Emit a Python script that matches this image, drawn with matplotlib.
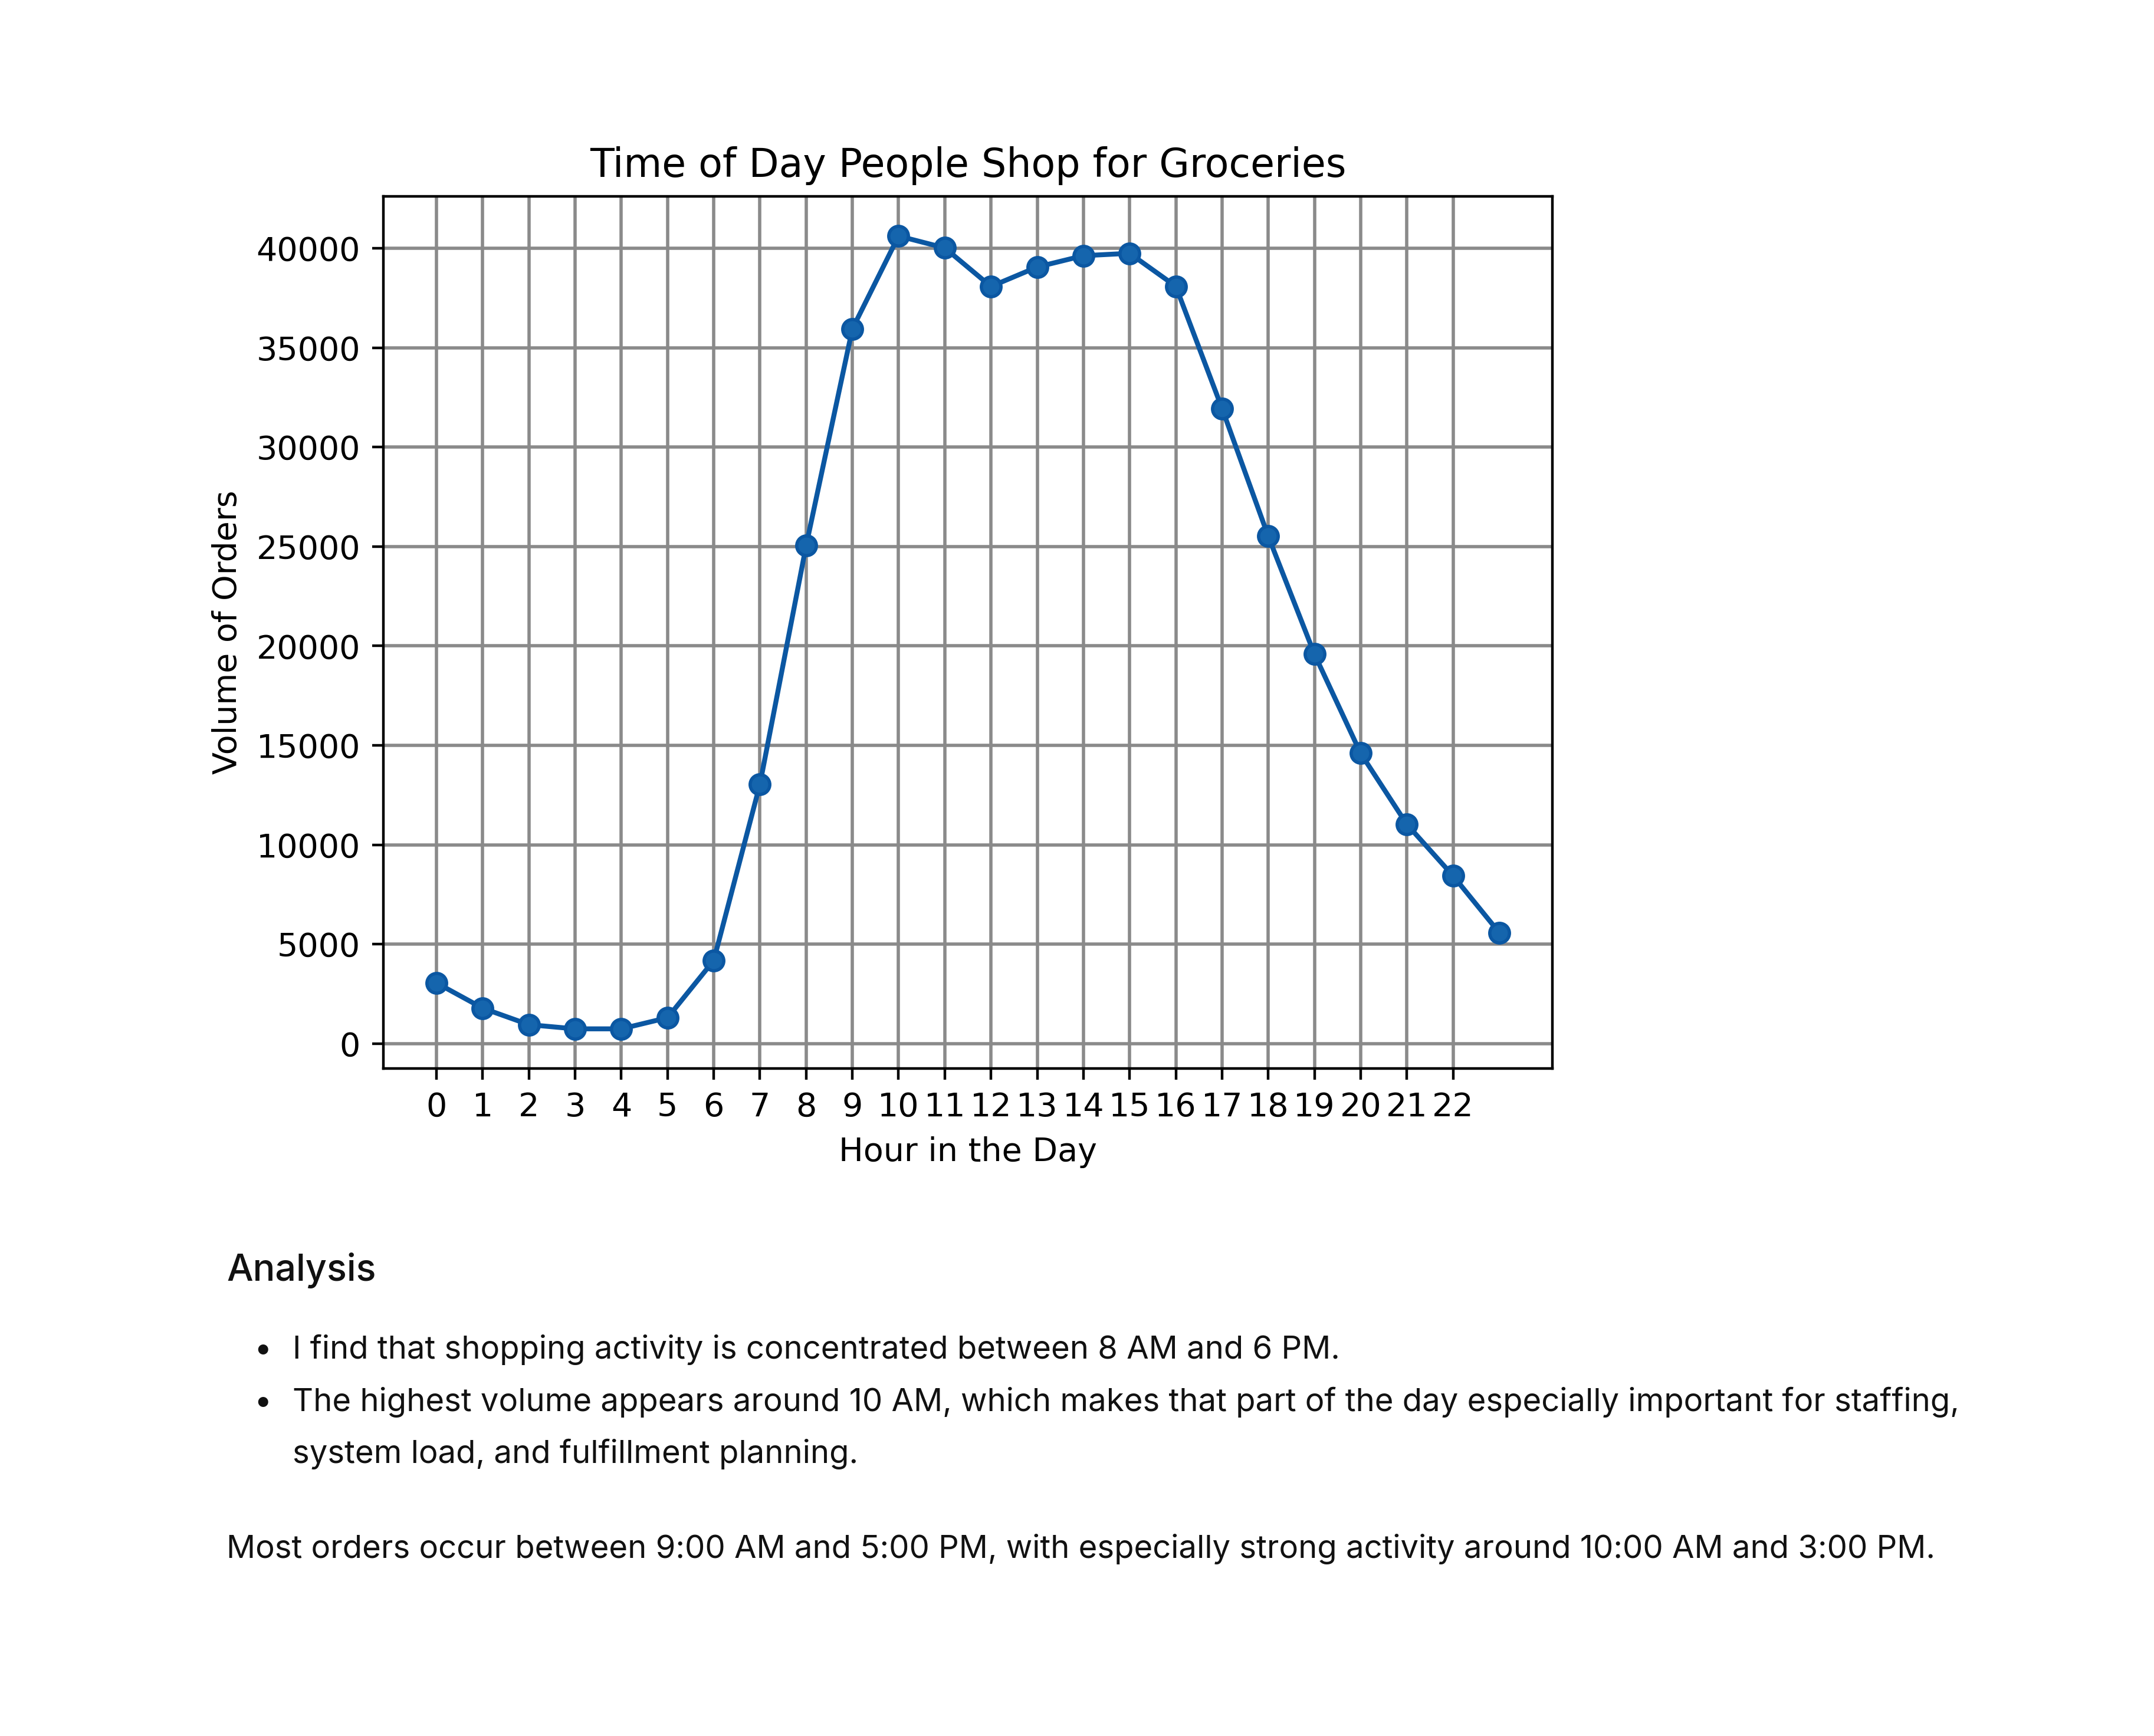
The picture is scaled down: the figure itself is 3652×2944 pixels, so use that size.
import matplotlib
matplotlib.use("Agg")
import matplotlib.pyplot as plt

# ---- data ----
hours = list(range(24))
orders = [3050, 1780, 950, 740, 740, 1300, 4180, 13050, 25050, 35950,
          40620, 40020, 38080, 39060, 39630, 39750, 38090, 31950, 25520,
          19590, 14600, 11030, 8440, 5580]
tick_positions = list(range(23))
tick_labels = [str(h) for h in range(23)]

title = "Time of Day People Shop for Groceries"
xlabel = "Hour in the Day"
ylabel = "Volume of Orders"
heading = "Analysis"
bullets = [
    "I find that shopping activity is concentrated between 8 AM and 6 PM.",
    "The highest volume appears around 10 AM, which makes that part of the day especially important for staffing,",
    "system load, and fulfillment planning.",
]
summary = "Most orders occur between 9:00 AM and 5:00 PM, with especially strong activity around 10:00 AM and 3:00 PM."

W, H = 3652, 2944
DPI = 400
fig = plt.figure(figsize=(W / DPI, H / DPI), dpi=DPI)
fig.patch.set_facecolor("white")

ax = fig.add_axes([650 / W, 1 - 1812 / H, 1982 / W, 1479 / H])
ax.plot(hours, orders, marker="o", color="#0b57a2", markerfacecolor="#1565ad",
        markeredgecolor="#0b57a2", linewidth=1.5, markersize=6, zorder=3)
ax.set_xticks(tick_positions)
ax.set_xticklabels(tick_labels)
ax.grid(True, color="#8a8a8a", linewidth=1.0)
ax.set_axisbelow(True)
ax.set_title(title, fontsize=12)
ax.set_xlabel(xlabel)
ax.set_ylabel(ylabel)

# ---- text block below ----
def px(x, y):
    return x / W, 1 - y / H

body_font = "Inter"
fig.canvas.draw()
renderer = fig.canvas.get_renderer()

def fit_size(text, target_w, family, weight="normal", base=10):
    t = fig.text(0, 0, text, fontsize=base, family=family, weight=weight)
    w = t.get_window_extent(renderer).width
    t.remove()
    return base * target_w / w

fs_head = fit_size(heading, 254, body_font, weight="medium")
fs_body = fit_size(bullets[1], 2828, body_font)

fig.text(*px(384, 2172), heading, fontsize=fs_head, family=body_font,
         weight="medium", va="baseline", ha="left", color="#111111")
bullet_y = [2304, 2393, 2481]
for i, (line, y) in enumerate(zip(bullets, bullet_y)):
    if i < 2:
        fig.text(*px(430, y), "\u2022", fontsize=fs_body, family=body_font,
                 va="baseline", ha="left", color="#111111")
    fig.text(*px(496, y), line, fontsize=fs_body, family=body_font,
             va="baseline", ha="left", color="#111111")
fig.text(*px(384, 2642), summary, fontsize=fs_body, family=body_font,
         va="baseline", ha="left", color="#111111")

fig.savefig("out.png", dpi=DPI, facecolor="white")
